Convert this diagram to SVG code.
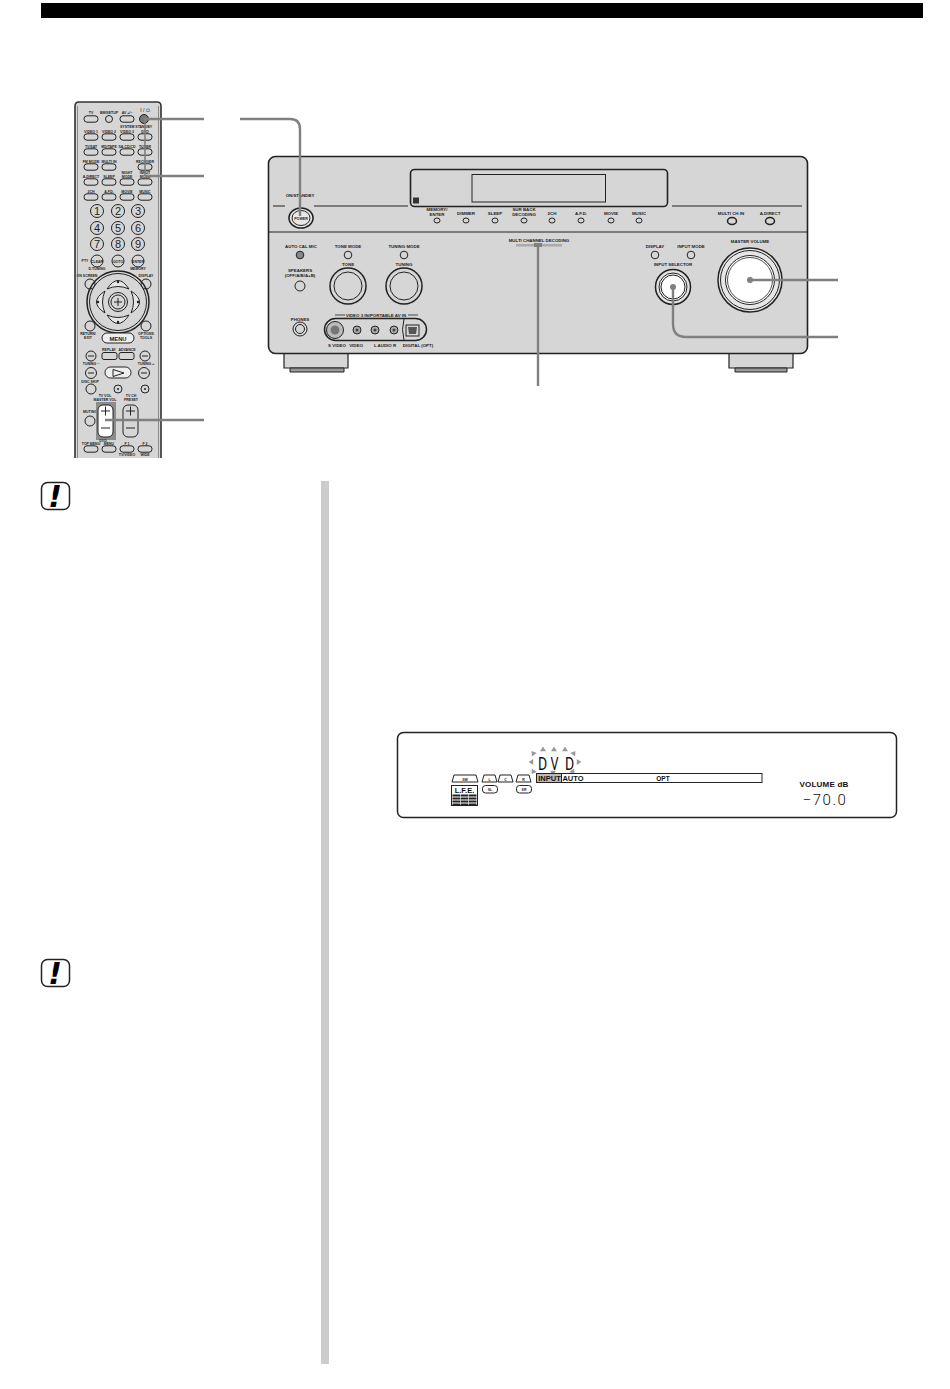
<svg xmlns="http://www.w3.org/2000/svg" width="950" height="1389" viewBox="0 0 950 1389">
<style>
text{font-family:"Liberation Sans",Arial,sans-serif;fill:#222;text-anchor:middle;font-weight:bold}
.r{font-size:3.5px}
.f{font-size:4.4px}
.o{fill:none;stroke:#222;stroke-width:1}
.k{fill:none;stroke:#222;stroke-width:1.5}
.b{fill:#d6d6d6;stroke:#222;stroke-width:1}
.g{fill:#eee;stroke:#222;stroke-width:1}
.t{fill:#fff;stroke:#222;stroke-width:1}
.c{fill:none;stroke:#808080;stroke-width:2.4}
.n{font-size:11px;font-weight:normal}
.pan{font-size:6px;fill:#111}
.seg{font-family:Roboto,"Liberation Sans",sans-serif;font-weight:400;fill:#111}
.bang{font-family:"DejaVu Sans",sans-serif;font-size:30px;font-style:italic;fill:#000;font-weight:bold}
</style>
<defs>
<rect id="btn" x="-7" y="-3.2" width="14" height="6.400" rx="3" class="b"/>
<path id="ray" d="M-3 2.200L0-2.400 3 2.200Z" fill="#999"/>
<path id="petal" d="M107 289Q118 272 129 289Q118 284 107 289Z" fill="#e6e6e6" stroke="#222"/>
</defs>
<rect width="950" height="1389" fill="#fff"/>
<rect id="top-bar" x="41" y="3" width="882" height="15" fill="#000"/>

<g id="remote">
<path d="M75 458V106Q75 102 79 102H157Q161 102 161 106V458Z" fill="#d6d6d6"/>
<path d="M75 458V106Q75 102 79 102H157Q161 102 161 106V458" fill="none" stroke="#333" stroke-width="1.600"/>
<path d="M77.500 458V106M158.500 458V106" fill="none" stroke="#777" stroke-width=".8"/>
<text class="r" x="91" y="114">TV</text><text class="r" x="109" y="114">BM/SETUP</text><text class="r" x="127" y="114">AV +/−</text>
<text x="145" y="112" style="font-size:5px;font-weight:normal">I / ⏻</text>
<use href="#btn" x="91" y="119"/><circle cx="109" cy="119" r="3.500" class="b"/><use href="#btn" x="127" y="119"/><circle cx="144" cy="119" r="4.500" fill="#777" stroke="#222"/>
<text class="r" x="136" y="128">SYSTEM STANDBY</text>
<text class="r" x="91" y="133">VIDEO 1</text><text class="r" x="109" y="133">VIDEO 2</text><text class="r" x="127" y="133">VIDEO 3</text><text class="r" x="145" y="133">DVD</text>
<use href="#btn" x="91" y="137"/><use href="#btn" x="109" y="137"/><use href="#btn" x="127" y="137"/><use href="#btn" x="145" y="137"/>
<text class="r" x="91" y="148">TV/SAT</text><text class="r" x="109" y="148">MD/TAPE</text><text class="r" x="127" y="148">SA-CD/CD</text><text class="r" x="145" y="148">TUNER</text>
<use href="#btn" x="91" y="152"/><use href="#btn" x="109" y="152"/><use href="#btn" x="127" y="152"/><use href="#btn" x="145" y="152"/>
<text class="r" x="91" y="163">FM MODE</text><text class="r" x="109" y="163">MULTI IN</text><text class="r" x="145" y="163">RECEIVER</text>
<use href="#btn" x="91" y="167"/><use href="#btn" x="109" y="167"/><use href="#btn" x="145" y="167"/>
<text class="r" x="91" y="178">A.DIRECT</text><text class="r" x="109" y="178">SLEEP</text><text class="r" x="127" y="174">NIGHT</text><text class="r" x="127" y="178">MODE</text><text class="r" x="145" y="174">INPUT</text><text class="r" x="145" y="178">MODE</text>
<use href="#btn" x="91" y="182"/><use href="#btn" x="109" y="182"/><use href="#btn" x="127" y="182"/><use href="#btn" x="145" y="182"/>
<text class="r" x="91" y="193">2CH</text><text class="r" x="109" y="193">A.F.D.</text><text class="r" x="127" y="193">MOVIE</text><text class="r" x="145" y="193">MUSIC</text>
<use href="#btn" x="91" y="197"/><use href="#btn" x="109" y="197"/><use href="#btn" x="127" y="197"/><use href="#btn" x="145" y="197"/>
<circle cx="97" cy="211" r="6.500" class="b"/><circle cx="118" cy="211" r="6.500" class="b"/><circle cx="138" cy="211" r="6.500" class="b"/>
<circle cx="97" cy="228" r="6.500" class="b"/><circle cx="118" cy="228" r="6.500" class="b"/><circle cx="138" cy="228" r="6.500" class="b"/>
<circle cx="97" cy="244" r="6.500" class="b"/><circle cx="118" cy="244" r="6.500" class="b"/><circle cx="138" cy="244" r="6.500" class="b"/>
<text class="n" x="97" y="215">1</text><text class="n" x="118" y="215">2</text><text class="n" x="138" y="215">3</text>
<text class="n" x="97" y="232">4</text><text class="n" x="118" y="232">5</text><text class="n" x="138" y="232">6</text>
<text class="n" x="97" y="248">7</text><text class="n" x="118" y="248">8</text><text class="n" x="138" y="248">9</text>
<text class="r" x="85" y="262">PTY</text>
<circle cx="97" cy="261" r="6" class="b"/><circle cx="118" cy="261" r="6" class="b"/><circle cx="138" cy="261" r="6" class="b"/>
<text class="r" x="97" y="262.500">CLEAR</text><text class="r" x="118" y="262.500">GOTO</text><text class="r" x="138" y="262.500">ENTER</text>
<text class="r" x="97" y="270">D.TUNING</text><text class="r" x="138" y="270">MEMORY</text>
<text class="r" x="87" y="277">ON SCREEN</text><text class="r" x="146" y="277">DISPLAY</text>
<circle cx="90" cy="284" r="5" class="b"/><circle cx="146" cy="284" r="5" class="b"/>
<circle cx="118" cy="302" r="31" class="k"/><circle cx="118" cy="302" r="28.500" class="o"/>
<use href="#petal"/><use href="#petal" transform="rotate(90 118 302)"/><use href="#petal" transform="rotate(180 118 302)"/><use href="#petal" transform="rotate(270 118 302)"/>
<circle cx="118" cy="302" r="9.500" class="o"/><circle cx="118" cy="302" r="7" class="o"/>
<path d="M114 302H122M118 298V306" class="o"/>
<circle cx="118" cy="282" r="1.200" fill="#222"/><circle cx="118" cy="322" r="1.200" fill="#222"/><circle cx="98" cy="302" r="1.200" fill="#222"/><circle cx="138" cy="302" r="1.200" fill="#222"/>
<circle cx="90" cy="326" r="5" class="b"/><circle cx="146" cy="326" r="5" class="b"/>
<text class="r" x="88" y="335">RETURN/</text><text class="r" x="88" y="339">EXIT</text><text class="r" x="146" y="335">OPTIONS</text><text class="r" x="146" y="339">TOOLS</text>
<rect x="102" y="333" width="32" height="10" rx="5" class="g"/><text x="118" y="340.500" style="font-size:5.800px">MENU</text>
<text class="r" x="109" y="351">REPLAY</text><text class="r" x="127" y="351">ADVANCE</text>
<circle cx="91" cy="356" r="5" class="b"/><circle cx="145" cy="356" r="5" class="b"/>
<path d="M88 356H94M142 356H148" class="o"/>
<rect x="102" y="352.500" width="15" height="7" rx="2" class="b"/><rect x="119" y="352.500" width="15" height="7" rx="2" class="b"/>
<text class="r" x="91" y="365">TUNING −</text><text class="r" x="146" y="365">TUNING +</text>
<circle cx="91" cy="373" r="5.500" class="b"/><circle cx="144" cy="373" r="5.500" class="b"/>
<path d="M88 373H94M141 373H147" class="o"/>
<rect x="105" y="367" width="26" height="11" rx="5.500" class="g"/><path d="M113 369.500L124 373 113 376.500Z" class="o"/>
<text class="r" x="90" y="383">DISC SKIP</text>
<circle cx="91" cy="389" r="5" class="b"/><circle cx="118" cy="389" r="4" class="b"/><circle cx="145" cy="389" r="4" class="b"/>
<circle cx="118" cy="389" r="1" fill="#222"/><circle cx="145" cy="389" r="1" fill="#222"/>
<text class="r" x="105" y="397">TV VOL</text><text class="r" x="105" y="401">MASTER VOL</text><text class="r" x="131" y="397">TV CH</text><text class="r" x="131" y="401">PRESET</text>
<text class="r" x="90" y="413">MUTING</text><circle cx="90" cy="421" r="5" class="b"/>
<rect x="96" y="402" width="20" height="38" fill="#8c8c8c"/>
<rect x="98" y="405" width="15" height="32" rx="5" fill="#fff" stroke="#222"/>
<rect x="123" y="405" width="15" height="32" rx="5" class="b"/>
<path d="M101 411H110M105.500 406.500V415.500M101 428H110M126 411H135M130.500 406.500V415.500M126 428H135" fill="none" stroke="#222"/>
<text class="r" x="103" y="442">DVD</text>
<text class="r" x="91" y="445">TOP MENU</text><text class="r" x="109" y="445">MENU</text><text class="r" x="127" y="445">F 1</text><text class="r" x="145" y="445">F 2</text>
<use href="#btn" x="91" y="449"/><use href="#btn" x="109" y="449"/><use href="#btn" x="127" y="449"/><use href="#btn" x="145" y="449"/>
<text class="r" x="127" y="456">TV/VIDEO</text><text class="r" x="145" y="456">WIDE</text>
</g>

<g id="receiver">
<path d="M284 353V368H348V353ZM729 353V368H793V353Z" fill="#d6d6d6" stroke="#222" stroke-width="1.200"/>
<path d="M290 368V372H344V368ZM735 368V372H787V368Z" fill="#999" stroke="#222"/>
<rect x="268.500" y="156.500" width="539" height="197" rx="7" fill="#d6d6d6" stroke="#222" stroke-width="1.600"/>
<path d="M268 232H808M273 206H285M314 206H408M672 206H802" stroke="#222" stroke-width="1"/>
<rect x="410.500" y="169.500" width="257" height="37" rx="4" fill="#d6d6d6" stroke="#222" stroke-width="1.600"/>
<rect x="472" y="174.500" width="133.500" height="27.500" fill="#d6d6d6" stroke="#222"/>
<rect x="413" y="197.500" width="6" height="6" fill="#333"/>
<text class="f" x="300" y="197">ON/STANDBY</text>
<ellipse cx="301" cy="218" rx="12" ry="10" fill="#e8e8e8" stroke="#222" stroke-width="1.600"/><ellipse cx="301" cy="218" rx="9" ry="7.500" class="o"/>
<text style="font-size:3.600px" x="301" y="219.500">POWER</text>
<text class="f" x="437" y="211">MEMORY/</text><text class="f" x="437" y="216">ENTER</text>
<text class="f" x="466" y="214.500">DIMMER</text><text class="f" x="495" y="214.500">SLEEP</text>
<text class="f" x="524" y="211">SUR BACK</text><text class="f" x="524" y="216">DECODING</text>
<text class="f" x="552" y="214.500">2CH</text><text class="f" x="581" y="214.500">A.F.D.</text><text class="f" x="611" y="214.500">MOVIE</text><text class="f" x="639" y="214.500">MUSIC</text>
<ellipse cx="437" cy="220.500" rx="3" ry="2.500" class="o"/><ellipse cx="466" cy="220.500" rx="3" ry="2.500" class="o"/><ellipse cx="495" cy="220.500" rx="3" ry="2.500" class="o"/><ellipse cx="524" cy="220.500" rx="3" ry="2.500" class="o"/><ellipse cx="552" cy="220.500" rx="3" ry="2.500" class="o"/><ellipse cx="581" cy="220.500" rx="3" ry="2.500" class="o"/><ellipse cx="611" cy="220.500" rx="3" ry="2.500" class="o"/><ellipse cx="639" cy="220.500" rx="3" ry="2.500" class="o"/>
<text class="f" x="731" y="215">MULTI CH IN</text><text class="f" x="770" y="215">A.DIRECT</text>
<ellipse cx="732" cy="221" rx="4.500" ry="3.500" class="k"/><ellipse cx="770" cy="221" rx="4.500" ry="3.500" class="k"/>
<text class="f" x="301" y="248">AUTO CAL MIC</text><text class="f" x="348" y="248">TONE MODE</text><text class="f" x="404" y="248">TUNING MODE</text>
<circle cx="300" cy="255" r="3.800" fill="#888" stroke="#222"/><circle cx="348" cy="255" r="3.800" class="o"/><circle cx="404" cy="255" r="3.800" class="o"/>
<text class="f" x="300" y="272">SPEAKERS</text><text class="f" x="300" y="277">(OFF/A/B/A+B)</text>
<circle cx="300" cy="286" r="5" class="o"/>
<text class="f" x="348" y="266">TONE</text><text class="f" x="404" y="266">TUNING</text>
<circle cx="348" cy="286" r="18" class="k"/><circle cx="348" cy="286" r="14" class="o"/>
<circle cx="404" cy="286" r="18" class="k"/><circle cx="404" cy="286" r="14" class="o"/>
<text class="f" x="300" y="321">PHONES</text>
<circle cx="300" cy="329" r="7" class="o"/><circle cx="300" cy="329" r="4.500" class="o"/>
<path d="M335 315H345M408 315H418" stroke="#222" stroke-width=".8"/>
<text class="f" x="376" y="317">VIDEO 3 IN/PORTABLE AV IN</text>
<rect x="324.500" y="318.500" width="102" height="22" rx="11" class="k"/>
<path d="M404 319Q401 330 404 340" class="o"/>
<circle cx="335" cy="330" r="8.500" fill="#bbb" stroke="#222"/><circle cx="335" cy="330" r="4.500" fill="#777"/>
<circle cx="357" cy="330" r="4" fill="#aaa" stroke="#222"/><circle cx="375" cy="330" r="4" fill="#aaa" stroke="#222"/><circle cx="394" cy="330" r="4" fill="#aaa" stroke="#222"/>
<circle cx="357" cy="330" r="1.500" fill="#444"/><circle cx="375" cy="330" r="1.500" fill="#444"/><circle cx="394" cy="330" r="1.500" fill="#444"/>
<rect x="406" y="325" width="13" height="11" class="o"/><path d="M408 327H417L416 334H409Z" fill="#555"/>
<text class="f" x="337" y="346.500">S VIDEO</text><text class="f" x="356" y="346.500">VIDEO</text><text class="f" x="385" y="346.500">L  AUDIO  R</text><text class="f" x="418" y="346.500">DIGITAL (OPT)</text>
<text class="f" x="539" y="242">MULTI CHANNEL DECODING</text>
<rect x="516" y="244" width="46" height="2.500" fill="#aaa"/>
<text class="f" x="655" y="248">DISPLAY</text><text class="f" x="691" y="248">INPUT MODE</text>
<circle cx="655" cy="255" r="3.800" class="o"/><circle cx="691" cy="255" r="3.800" class="o"/>
<text class="f" x="673" y="266">INPUT SELECTOR</text>
<circle cx="673" cy="287" r="17.500" fill="#e2e2e2" stroke="#222" stroke-width="1.500"/><circle cx="673" cy="287" r="14" fill="#f4f4f4" stroke="#222"/><circle cx="673" cy="287" r="12" fill="#fff" stroke="#222"/>
<text class="f" x="750" y="243">MASTER VOLUME</text>
<circle cx="750" cy="280" r="32" fill="#e6e6e6" stroke="#222" stroke-width="1.500"/><circle cx="750" cy="280" r="29.500" class="o"/><circle cx="750" cy="280" r="24.500" fill="#fff" stroke="#222"/><circle cx="750" cy="280" r="22.500" fill="#fff" stroke="#222" stroke-width=".8"/>
</g>

<g id="connectors">
<path class="c" d="M144 119H204"/>
<path class="c" d="M145 119V176" style="stroke-width:1.600"/>
<path class="c" d="M145 176H204"/>
<path class="c" d="M240 119H290Q300 119 300 129V216"/>
<path class="c" d="M105 420H204"/>
<path class="c" d="M538 245V386"/>
<path class="c" d="M750 280H838"/>
<path class="c" d="M673 287V324Q673 337 686 337H838"/>
<circle cx="750" cy="280" r="3" fill="#808080"/><circle cx="673" cy="287" r="3" fill="#808080"/>
<rect x="534" y="243" width="8" height="4" fill="#808080"/>
</g>

<g id="note-1">
<rect x="41.500" y="482.500" width="28" height="27" rx="6" fill="#fff" stroke="#222" stroke-width="1.500"/>
<text class="bang" x="55" y="507">!</text>
</g>
<g id="note-2">
<rect x="41.500" y="959.500" width="28" height="27" rx="6" fill="#fff" stroke="#222" stroke-width="1.500"/>
<text class="bang" x="55" y="984">!</text>
</g>
<rect id="side-bar" x="321" y="481" width="8" height="883" fill="#cccccc"/>

<g id="display-panel">
<rect x="397.500" y="732.500" width="499" height="85" rx="6" fill="#fff" stroke="#222" stroke-width="1.500"/>
<use href="#ray" transform="translate(533 753) rotate(-35)"/><use href="#ray" x="543" y="749"/><use href="#ray" x="554" y="749"/><use href="#ray" x="565" y="749"/><use href="#ray" transform="translate(574 753) rotate(35)"/>
<use href="#ray" transform="translate(531 762) rotate(-90)"/><use href="#ray" transform="translate(579 762) rotate(90)"/>
<use href="#ray" transform="translate(533 772) rotate(215)"/><use href="#ray" transform="translate(553 773) rotate(180)"/><use href="#ray" transform="translate(573 772) rotate(145)"/>
<text class="seg" transform="translate(542.500 770) scale(.78 1)" style="font-size:18px">D</text>
<text class="seg" transform="translate(554.500 770) scale(.7 1)" style="font-size:18px">V</text>
<text class="seg" transform="translate(569.500 770) scale(.78 1)" style="font-size:18px">D</text>
<path d="M452 782L454 775H476L478 782ZM482 782L484 775H495L497 782ZM498 782L500 775H511L513 782ZM516 782L518 775H529L531 782Z" class="t"/>
<text class="r" x="465" y="780.500">SW</text><text class="r" x="489.500" y="780.500">L</text><text class="r" x="505.500" y="780.500">C</text><text class="r" x="523.500" y="780.500">R</text>
<rect x="482.500" y="785.500" width="15" height="7.500" rx="3" class="t"/><rect x="516.500" y="785.500" width="15" height="7.500" rx="3" class="t"/>
<text class="r" x="490" y="790.500">SL</text><text class="r" x="524" y="790.500">SR</text>
<rect x="451.500" y="785.500" width="26" height="20" fill="#fff" stroke="#222"/>
<text x="464.500" y="792.500" style="font-size:7.500px;fill:#111">L.F.E.</text>
<path d="M452.500 795.500H476.500M452.500 798.500H476.500M452.500 801.500H476.500M452.500 804.500H476.500" stroke="#222" stroke-width="1.800"/>
<path d="M460.500 794V805M468.500 794V805" stroke="#fff" stroke-width=".6"/>
<rect x="536.500" y="773.500" width="225.500" height="9" fill="#fff" stroke="#222"/>
<rect x="537" y="774" width="24" height="8" fill="#bbb"/>
<path d="M561.500 773.500V782.500" stroke="#222"/>
<text class="pan" x="549.500" y="781" style="font-size:7.500px">INPUT</text>
<text class="pan" x="573" y="781" style="font-size:7.500px">AUTO</text>
<text class="pan" x="663" y="781" style="font-size:6.500px">OPT</text>
<text x="824" y="787" style="font-size:8px;letter-spacing:.2px;fill:#111">VOLUME dB</text>
<text class="seg" x="825" y="805" style="font-size:15px;letter-spacing:1.500px;font-weight:300">−70.0</text>
</g>
</svg>
